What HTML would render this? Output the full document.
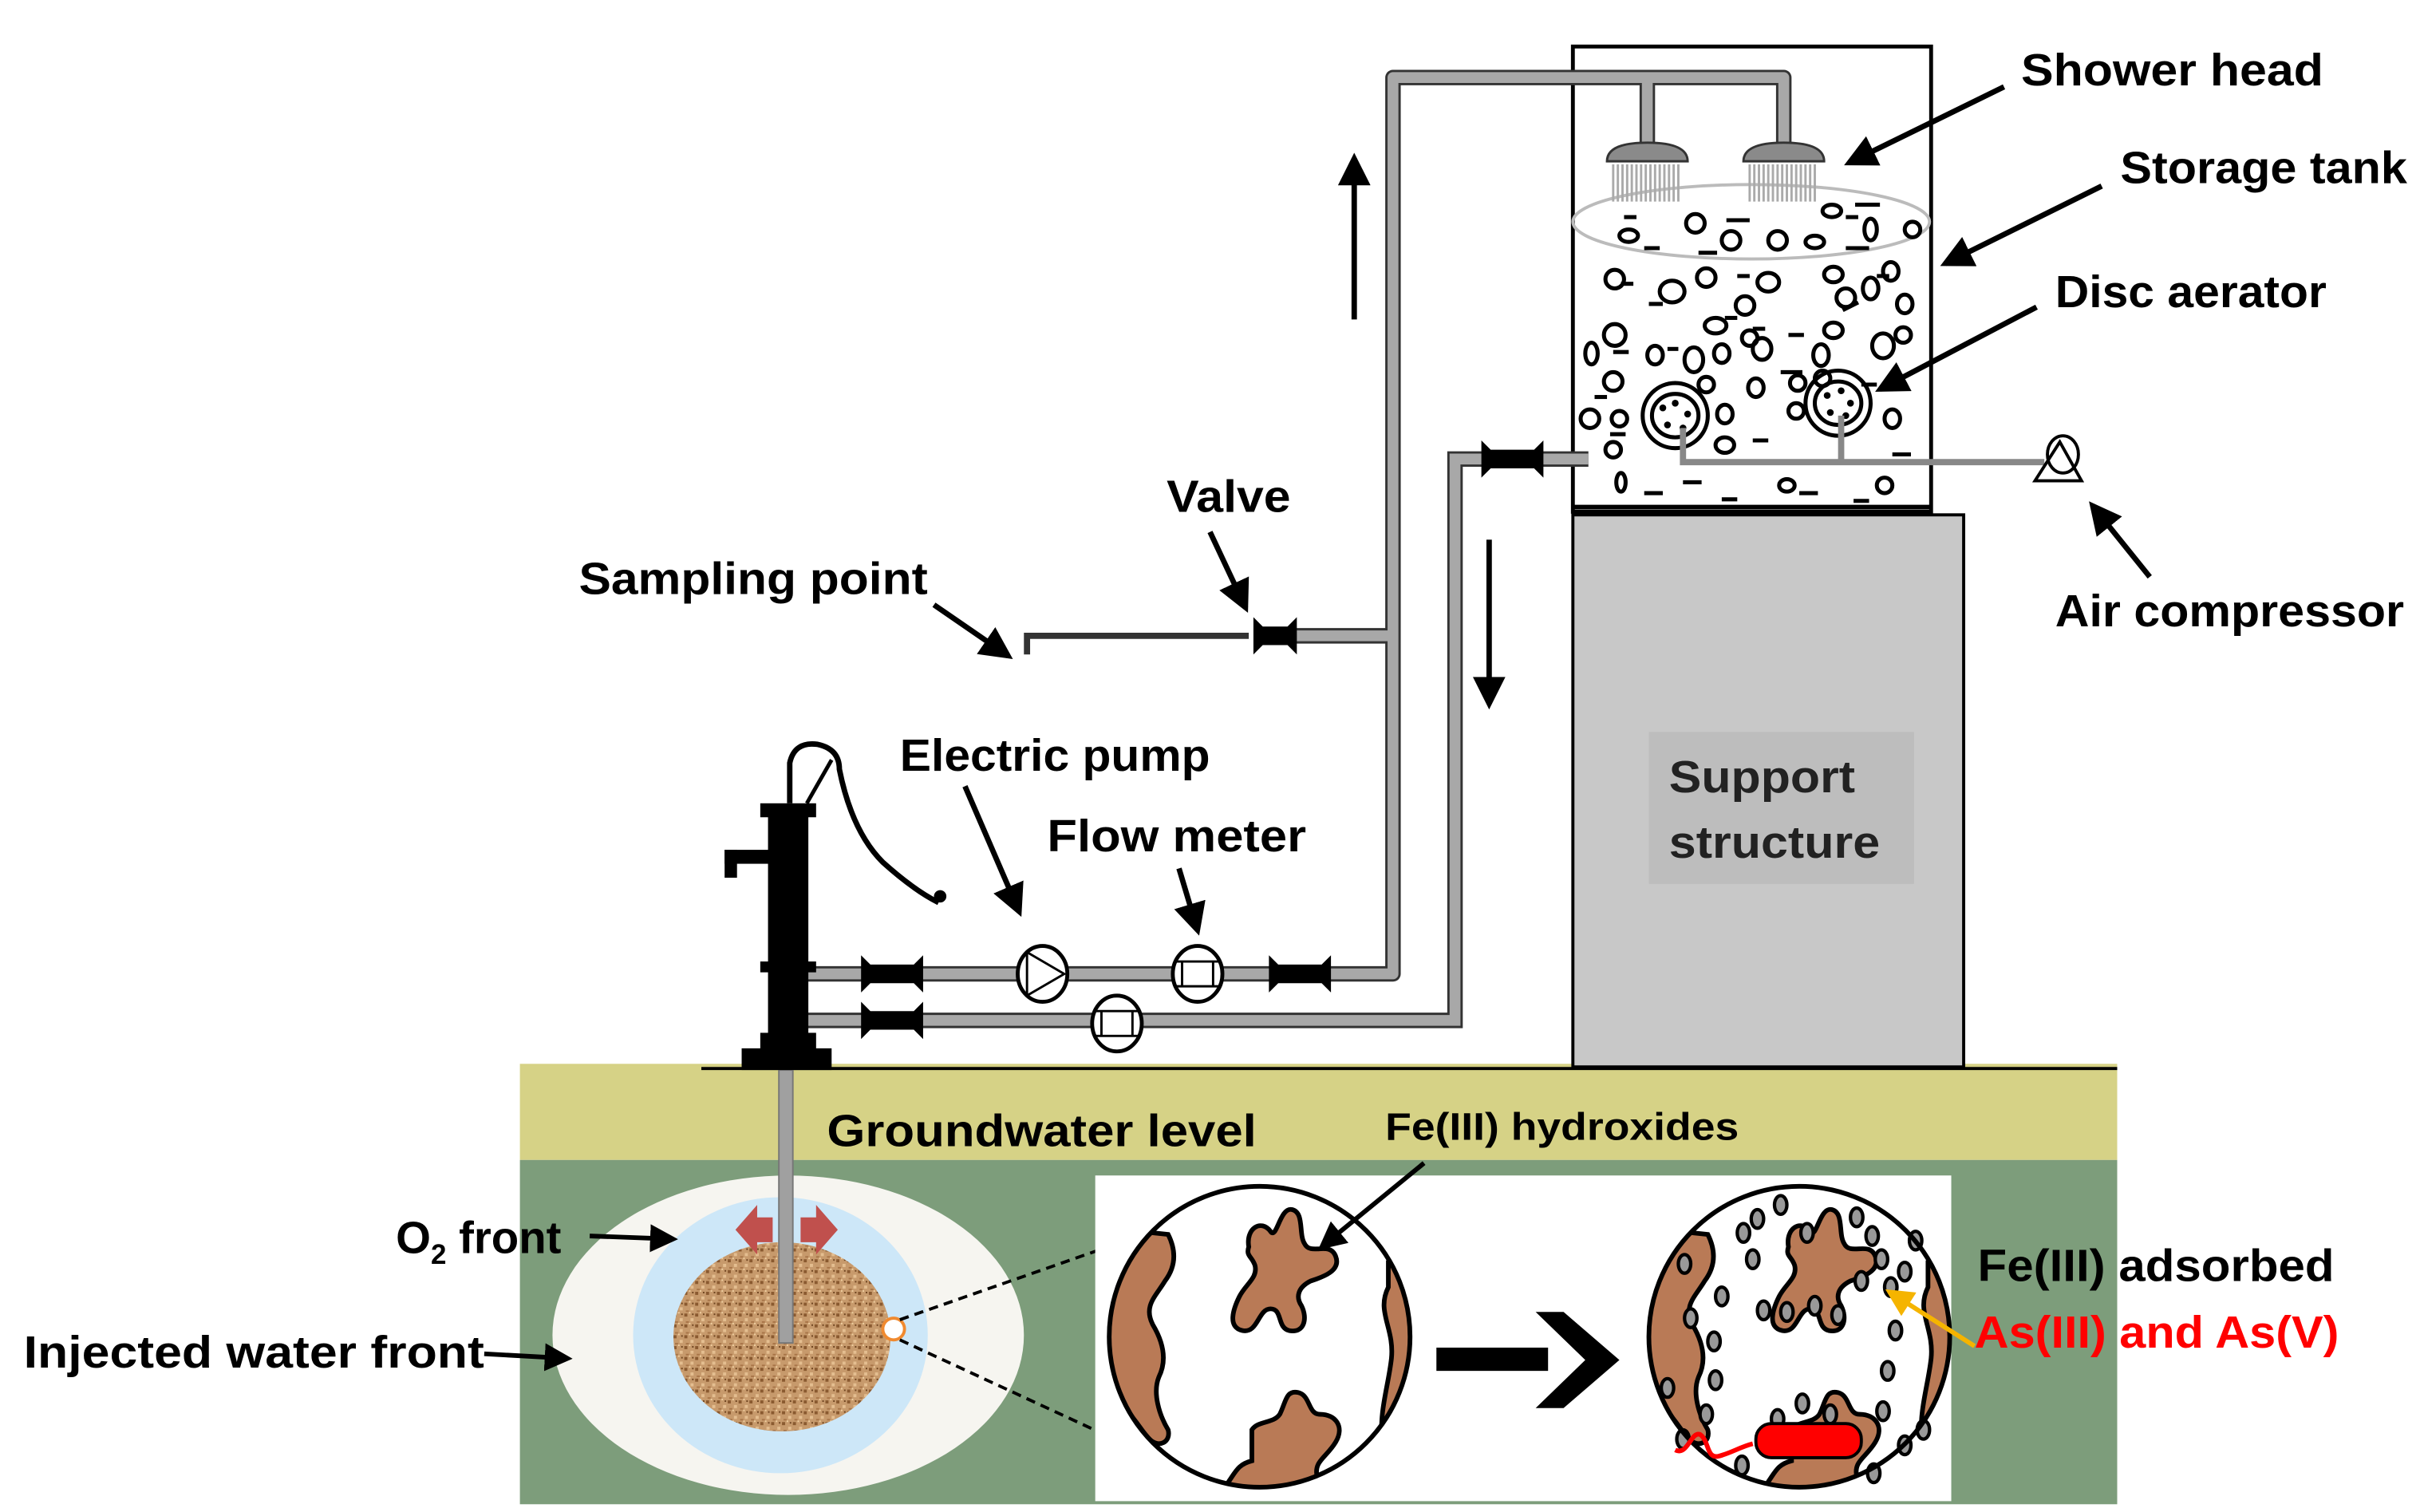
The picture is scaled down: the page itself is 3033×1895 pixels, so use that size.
<!DOCTYPE html>
<html><head><meta charset="utf-8"><style>html,body{margin:0;padding:0;background:#fff}svg{display:block}text{font-family:"Liberation Sans",sans-serif;font-weight:bold}</style></head><body>
<svg width="3033" height="1895" viewBox="0 0 1560 975" xmlns="http://www.w3.org/2000/svg">
<defs>
<marker id="ah" markerWidth="6" markerHeight="6" refX="5" refY="3" orient="auto" markerUnits="strokeWidth"><path d="M0,0 L6,3 L0,6 z" fill="#000"/></marker>
<marker id="ahy" markerWidth="6" markerHeight="6" refX="5" refY="3" orient="auto" markerUnits="strokeWidth"><path d="M0,0 L6,3 L0,6 z" fill="#f5b400"/></marker>
<pattern id="sand" width="7" height="7" patternUnits="userSpaceOnUse"><rect width="7" height="7" fill="#c79a6c"/><rect x="0" y="0" width="2" height="2" fill="#8a5a30"/><rect x="4" y="3" width="2" height="2" fill="#e4be90"/><rect x="5" y="0" width="1" height="1" fill="#6e4420"/><rect x="1" y="5" width="2" height="1" fill="#a87548"/><rect x="3" y="6" width="1" height="1" fill="#f0cfa0"/></pattern>
<clipPath id="c1"><circle cx="812" cy="862" r="96"/></clipPath>
<clipPath id="c2"><circle cx="1160" cy="862" r="96"/></clipPath>
<g id="blobs" stroke="#000" stroke-width="3" fill="#b97a56">
<path d="M-30,-58 c-2,-12 8,-18 14,-10 c4,6 6,-16 14,-14 c8,2 4,16 8,22 c4,8 16,-2 20,8 c4,10 -10,14 -16,16 c-8,4 -10,10 -6,16 c4,8 2,18 -8,16 c-8,-2 -4,-14 -12,-14 c-8,0 -8,16 -18,14 c-10,-2 -6,-14 -2,-22 c4,-8 12,-12 10,-20 c-2,-6 -6,-6 -4,-12z"/>
<path d="M-120,-70 L-82,-66 c6,12 4,22 -2,30 c-6,10 -14,16 -8,28 c6,10 10,22 4,34 c-4,10 0,24 6,34 c2,8 -6,12 -12,6 c-8,-8 -10,-18 -30,-30 z"/>
<path d="M60,-48 c10,-2 18,-6 24,-10 L120,-40 L120,120 L80,90 c-2,-10 -4,-20 -8,-20 c-8,0 -14,10 -16,-2 c-2,-20 4,-36 6,-54 c2,-20 -10,-30 -2,-46z"/>
<path d="M-28,60 c4,-6 14,-4 18,-10 c4,-8 4,-16 12,-14 c8,2 6,14 14,14 c10,0 16,8 10,18 c-6,10 -14,12 -12,22 L-40,120 c-4,-12 -8,-20 -2,-28 c4,-6 6,-10 14,-12z"/>
</g>
</defs>
<!-- ground -->
<rect x="335" y="686" width="1030" height="62" fill="#d6d286"/>
<rect x="335" y="748" width="1030" height="222" fill="#7d9d7b"/>
<line x1="452" y1="689" x2="1365" y2="689" stroke="#000" stroke-width="2"/>
<ellipse cx="508" cy="861" rx="152" ry="103" fill="#f6f5f0"/>
<ellipse cx="503" cy="861" rx="95" ry="89" fill="#cde7f8"/>
<ellipse cx="504" cy="862" rx="70" ry="61" fill="url(#sand)"/>
<rect x="502" y="690" width="9" height="176" fill="#a0a0a0" stroke="#777" stroke-width="1"/>
<path d="M498,785 h-10 v-8 l-14,16 l14,16 v-8 h10z" fill="#c0504d"/>
<path d="M516,785 h10 v-8 l14,16 l-14,16 v-8 h-10z" fill="#c0504d"/>
<ellipse cx="576" cy="857" rx="7" ry="7" fill="#fff" stroke="#f08a30" stroke-width="2"/>
<line x1="580" y1="851" x2="740" y2="795" stroke="#000" stroke-width="2" stroke-dasharray="6,4"/>
<line x1="580" y1="864" x2="740" y2="938" stroke="#000" stroke-width="2" stroke-dasharray="6,4"/>
<!-- inset -->
<rect x="706" y="758" width="552" height="210" fill="#fff"/>
<circle cx="812" cy="862" r="97" fill="#fff"/>
<g clip-path="url(#c1)"><use href="#blobs" transform="translate(835,862)"/></g>
<circle cx="812" cy="862" r="97" fill="none" stroke="#000" stroke-width="3"/>
<circle cx="1160" cy="862" r="97" fill="#fff"/>
<g clip-path="url(#c2)"><use href="#blobs" transform="translate(1183,862)"/></g>
<g fill="#999" stroke="#000" stroke-width="2.2">
<ellipse cx="1133" cy="786" rx="4" ry="6"/><ellipse cx="1148" cy="777" rx="4" ry="6"/><ellipse cx="1197" cy="785" rx="4" ry="6"/><ellipse cx="1207" cy="797" rx="4" ry="6"/><ellipse cx="1213" cy="812" rx="4" ry="6"/><ellipse cx="1200" cy="826" rx="4" ry="6"/><ellipse cx="1219" cy="830" rx="4" ry="6"/><ellipse cx="1228" cy="820" rx="4" ry="6"/><ellipse cx="1185" cy="848" rx="4" ry="6"/><ellipse cx="1170" cy="842" rx="4" ry="6"/><ellipse cx="1152" cy="846" rx="4" ry="6"/><ellipse cx="1137" cy="845" rx="4" ry="6"/><ellipse cx="1130" cy="812" rx="4" ry="6"/><ellipse cx="1124" cy="795" rx="4" ry="6"/><ellipse cx="1110" cy="836" rx="4" ry="6"/><ellipse cx="1105" cy="865" rx="4" ry="6"/><ellipse cx="1106" cy="890" rx="4" ry="6"/><ellipse cx="1100" cy="912" rx="4" ry="6"/><ellipse cx="1085" cy="928" rx="4" ry="6"/><ellipse cx="1222" cy="858" rx="4" ry="6"/><ellipse cx="1217" cy="884" rx="4" ry="6"/><ellipse cx="1214" cy="910" rx="4" ry="6"/><ellipse cx="1228" cy="932" rx="4" ry="6"/><ellipse cx="1240" cy="922" rx="4" ry="6"/><ellipse cx="1146" cy="915" rx="4" ry="6"/><ellipse cx="1162" cy="905" rx="4" ry="6"/><ellipse cx="1180" cy="912" rx="4" ry="6"/><ellipse cx="1123" cy="945" rx="4" ry="6"/><ellipse cx="1086" cy="815" rx="4" ry="6"/><ellipse cx="1235" cy="800" rx="4" ry="6"/><ellipse cx="1075" cy="895" rx="4" ry="6"/><ellipse cx="1090" cy="850" rx="4" ry="6"/><ellipse cx="1208" cy="950" rx="4" ry="6"/><ellipse cx="1165" cy="795" rx="4" ry="6"/>
</g>
<circle cx="1160" cy="862" r="97" fill="none" stroke="#000" stroke-width="3"/>
<path d="M1080,935 c8,4 10,-12 16,-10 c6,4 4,16 12,14 c8,-2 14,-6 22,-8" fill="none" stroke="#f00" stroke-width="3"/>
<rect x="1132" y="918" width="68" height="22" rx="10" fill="#f00" stroke="#000" stroke-width="2"/>
<rect x="926" y="869" width="72" height="15" fill="#000"/>
<path d="M990,846 L1008,846 L1044,877 L1008,908 L990,908 L1022,877 Z" fill="#000"/>
<line x1="1273" y1="868" x2="1218" y2="833" stroke="#f5b400" stroke-width="3" marker-end="url(#ahy)"/>
<!-- support & tank -->
<rect x="1014" y="332" width="252" height="356" fill="#c8c8c8" stroke="#000" stroke-width="2"/>
<rect x="1063" y="472" width="171" height="98" fill="#bdbdbd"/>
<rect x="1014" y="30" width="231" height="300" fill="#fff" stroke="#000" stroke-width="2.5"/>
<line x1="1014" y1="327" x2="1246" y2="327" stroke="#000" stroke-width="3"/>
<ellipse cx="1129" cy="143" rx="115" ry="24" fill="none" stroke="#bbb" stroke-width="2"/>
<g fill="none" stroke="#000" stroke-width="2.6">
<ellipse cx="1050" cy="152" rx="6" ry="4"/><ellipse cx="1093" cy="144" rx="6" ry="6"/><ellipse cx="1116" cy="155" rx="6" ry="6"/><ellipse cx="1146" cy="155" rx="6" ry="6"/><ellipse cx="1170" cy="156" rx="6" ry="4"/><ellipse cx="1181" cy="136" rx="6" ry="4"/><ellipse cx="1206" cy="148" rx="4" ry="7"/><ellipse cx="1233" cy="148" rx="5" ry="5"/>
<ellipse cx="1041" cy="180" rx="6" ry="6"/><ellipse cx="1100" cy="179" rx="6" ry="6"/><ellipse cx="1140" cy="182" rx="7" ry="6"/><ellipse cx="1182" cy="177" rx="6" ry="5"/><ellipse cx="1219" cy="175" rx="5" ry="6"/><ellipse cx="1078" cy="188" rx="8" ry="7"/><ellipse cx="1125" cy="197" rx="6" ry="6"/><ellipse cx="1190" cy="192" rx="6" ry="6"/><ellipse cx="1206" cy="186" rx="5" ry="7"/><ellipse cx="1228" cy="196" rx="5" ry="6"/>
<ellipse cx="1041" cy="216" rx="7" ry="7"/><ellipse cx="1106" cy="210" rx="7" ry="5"/><ellipse cx="1128" cy="218" rx="5" ry="5"/><ellipse cx="1182" cy="213" rx="6" ry="5"/><ellipse cx="1227" cy="216" rx="5" ry="5"/><ellipse cx="1136" cy="225" rx="6" ry="7"/><ellipse cx="1174" cy="229" rx="5" ry="7"/><ellipse cx="1214" cy="223" rx="7" ry="8"/><ellipse cx="1092" cy="232" rx="6" ry="8"/>
<ellipse cx="1026" cy="228" rx="4" ry="7"/><ellipse cx="1067" cy="229" rx="5" ry="6"/><ellipse cx="1110" cy="228" rx="5" ry="6"/><ellipse cx="1040" cy="246" rx="6" ry="6"/><ellipse cx="1100" cy="248" rx="5" ry="5"/><ellipse cx="1132" cy="250" rx="5" ry="6"/><ellipse cx="1159" cy="247" rx="5" ry="5"/><ellipse cx="1175" cy="244" rx="5" ry="5"/>
<ellipse cx="1025" cy="270" rx="6" ry="6"/><ellipse cx="1044" cy="270" rx="5" ry="5"/><ellipse cx="1112" cy="267" rx="5" ry="6"/><ellipse cx="1158" cy="265" rx="5" ry="5"/><ellipse cx="1220" cy="270" rx="5" ry="6"/><ellipse cx="1040" cy="290" rx="5" ry="5"/><ellipse cx="1112" cy="287" rx="6" ry="5"/><ellipse cx="1045" cy="311" rx="3" ry="6"/><ellipse cx="1152" cy="313" rx="5" ry="4"/><ellipse cx="1215" cy="313" rx="5" ry="5"/>
<ellipse cx="1080" cy="268" rx="21" ry="21"/><ellipse cx="1080" cy="268" rx="15" ry="14"/><ellipse cx="1185" cy="260" rx="21" ry="21"/><ellipse cx="1185" cy="260" rx="15" ry="14"/>
</g>
<g stroke="#000" stroke-width="2.6">
<line x1="1047" y1="140" x2="1055" y2="140"/><line x1="1113" y1="142" x2="1128" y2="142"/><line x1="1196" y1="132" x2="1212" y2="132"/><line x1="1190" y1="140" x2="1198" y2="140"/><line x1="1190" y1="160" x2="1205" y2="160"/><line x1="1095" y1="163" x2="1107" y2="163"/><line x1="1060" y1="160" x2="1070" y2="160"/><line x1="1045" y1="183" x2="1053" y2="183"/><line x1="1063" y1="196" x2="1072" y2="196"/><line x1="1120" y1="178" x2="1128" y2="178"/><line x1="1210" y1="178" x2="1218" y2="178"/><line x1="1112" y1="205" x2="1120" y2="205"/><line x1="1040" y1="227" x2="1050" y2="227"/><line x1="1075" y1="225" x2="1082" y2="225"/><line x1="1130" y1="212" x2="1138" y2="212"/><line x1="1153" y1="216" x2="1163" y2="216"/><line x1="1188" y1="200" x2="1198" y2="195"/><line x1="1148" y1="240" x2="1162" y2="240"/><line x1="1200" y1="248" x2="1210" y2="248"/><line x1="1038" y1="280" x2="1048" y2="280"/><line x1="1130" y1="284" x2="1140" y2="284"/><line x1="1220" y1="293" x2="1232" y2="293"/><line x1="1060" y1="318" x2="1072" y2="318"/><line x1="1110" y1="322" x2="1120" y2="322"/><line x1="1160" y1="318" x2="1172" y2="318"/><line x1="1195" y1="323" x2="1205" y2="323"/><line x1="1085" y1="311" x2="1097" y2="311"/><line x1="1220" y1="250" x2="1230" y2="250"/><line x1="1028" y1="256" x2="1036" y2="256"/></g>
<g fill="#000"><circle cx="1072" cy="263" r="2.2"/><circle cx="1080" cy="260" r="2.2"/><circle cx="1088" cy="267" r="2.2"/><circle cx="1075" cy="274" r="2.2"/><circle cx="1085" cy="276" r="2.2"/><circle cx="1178" cy="255" r="2.2"/><circle cx="1187" cy="252" r="2.2"/><circle cx="1193" cy="260" r="2.2"/><circle cx="1180" cy="266" r="2.2"/><circle cx="1190" cy="268" r="2.2"/></g>
<!-- aerator pipe -->
<path d="M1085,276 V298 H1318 M1187,268 V298" fill="none" stroke="#888" stroke-width="4"/>
<path d="M1312,310 L1328,285 L1342,310 Z" fill="#fff" stroke="#000" stroke-width="2"/>
<ellipse cx="1330" cy="293" rx="10" ry="12" fill="none" stroke="#000" stroke-width="2"/>
<!-- pipes -->
<path d="M520,628 H898 V50 H1150 V98 M1062,50 V98 M898,410 H828" fill="none" stroke="#333" stroke-width="10" stroke-linejoin="round"/>
<path d="M520,628 H898 V50 H1150 V98 M1062,50 V98 M898,410 H828" fill="none" stroke="#a8a8a8" stroke-width="7" stroke-linejoin="round"/>
<path d="M520,658 H938 V296 H1024" fill="none" stroke="#333" stroke-width="10"/>
<path d="M520,658 H938 V296 H1024" fill="none" stroke="#a8a8a8" stroke-width="7"/>
<path d="M805,410 H662 V422" fill="none" stroke="#333" stroke-width="4"/>
<path d="M1036,104 q0,-12 26,-12 q26,0 26,12 z M1124,104 q0,-12 26,-12 q26,0 26,12 z" fill="#8a8a8a" stroke="#333" stroke-width="1.5"/>
<g stroke="#aaa" stroke-width="1.5"><path d="M1040,106v24M1043,106v24M1046,106v24M1049,106v24M1052,106v24M1055,106v24M1058,106v24M1061,106v24M1064,106v24M1067,106v24M1070,106v24M1073,106v24M1076,106v24M1079,106v24M1082,106v24M1128,106v24M1131,106v24M1134,106v24M1137,106v24M1140,106v24M1143,106v24M1146,106v24M1149,106v24M1152,106v24M1155,106v24M1158,106v24M1161,106v24M1164,106v24M1167,106v24M1170,106v24"/></g>
<!-- valves -->
<g fill="#000">
<path d="M808,398 l6,6 h16 l6,-6 v24 l-6,-6 h-16 l-6,6z"/>
<path d="M555,616 l6,6 h28 l6,-6 v24 l-6,-6 h-28 l-6,6z"/>
<path d="M555,646 l6,6 h28 l6,-6 v24 l-6,-6 h-28 l-6,6z"/>
<path d="M818,616 l6,6 h28 l6,-6 v24 l-6,-6 h-28 l-6,6z"/>
<path d="M955,284 l6,6 h28 l6,-6 v24 l-6,-6 h-28 l-6,6z"/>
</g>
<g fill="#fff" stroke="#000" stroke-width="2.5">
<ellipse cx="672" cy="628" rx="16" ry="18"/><ellipse cx="772" cy="628" rx="16" ry="18"/><ellipse cx="720" cy="660" rx="16" ry="18"/></g>
<path d="M662,614 V642 M662,614 L686,628 L662,642" fill="none" stroke="#000" stroke-width="1.5"/>
<path d="M758,620 H786 M758,636 H786 M762,620 V636 M782,620 V636" fill="none" stroke="#000" stroke-width="1.5"/>
<path d="M706,652 H734 M706,668 H734 M710,652 V668 M730,652 V668" fill="none" stroke="#000" stroke-width="1.5"/>
<!-- hand pump -->
<g fill="#000">
<rect x="495" y="520" width="26" height="160"/>
<rect x="478" y="676" width="58" height="14"/>
<rect x="490" y="666" width="36" height="12"/>
<rect x="467" y="548" width="30" height="9"/><rect x="467" y="548" width="8" height="18"/>
<rect x="490" y="518" width="36" height="9"/>
<rect x="490" y="620" width="36" height="7"/>
</g>
<path d="M509,518 V492 q3,-14 18,-12 q14,3 14,16 q8,40 28,60 q20,18 36,26" fill="none" stroke="#000" stroke-width="3.5"/>
<path d="M520,518 L536,490" fill="none" stroke="#000" stroke-width="2.5"/>
<circle cx="606" cy="578" r="4" fill="#000"/>
<!-- flow arrows -->
<line x1="873" y1="206" x2="873" y2="102" stroke="#000" stroke-width="3.5" marker-end="url(#ah)"/>
<line x1="960" y1="348" x2="960" y2="454" stroke="#000" stroke-width="3.5" marker-end="url(#ah)"/>
<!-- label arrows -->
<g stroke="#000" stroke-width="3.5" marker-end="url(#ah)">
<line x1="1292" y1="56" x2="1192" y2="105"/>
<line x1="1355" y1="120" x2="1254" y2="170"/>
<line x1="1313" y1="198" x2="1212" y2="251"/>
<line x1="1386" y1="372" x2="1349" y2="326"/>
<line x1="780" y1="343" x2="803" y2="392"/>
<line x1="602" y1="390" x2="650" y2="423"/>
<line x1="622" y1="507" x2="657" y2="588"/>
<line x1="760" y1="560" x2="772" y2="600"/>
</g>
<g stroke="#000" stroke-width="3" marker-end="url(#ah)">
<line x1="918" y1="750" x2="852" y2="804"/>
<line x1="380" y1="797" x2="434" y2="799"/>
<line x1="312" y1="873" x2="366" y2="876"/>
</g>
<!-- labels -->
<g font-size="29" fill="#000">
<text x="1303" y="55" textLength="195" lengthAdjust="spacingAndGlyphs">Shower head</text>
<text x="1367" y="118" textLength="185" lengthAdjust="spacingAndGlyphs">Storage tank</text>
<text x="1325" y="198" textLength="175" lengthAdjust="spacingAndGlyphs">Disc aerator</text>
<text x="1325" y="404" textLength="225" lengthAdjust="spacingAndGlyphs">Air compressor</text>
<text x="752" y="330" textLength="80" lengthAdjust="spacingAndGlyphs">Valve</text>
<text x="373" y="383" textLength="225" lengthAdjust="spacingAndGlyphs">Sampling point</text>
<text x="580" y="497" textLength="200" lengthAdjust="spacingAndGlyphs">Electric pump</text>
<text x="675" y="549" textLength="167" lengthAdjust="spacingAndGlyphs">Flow meter</text>
<text x="1076" y="511" textLength="120" lengthAdjust="spacingAndGlyphs" fill="#222">Support</text>
<text x="1076" y="553" textLength="136" lengthAdjust="spacingAndGlyphs" fill="#222">structure</text>
<text x="533" y="739" textLength="277" lengthAdjust="spacingAndGlyphs">Groundwater level</text>
<text x="1275" y="826" textLength="230" lengthAdjust="spacingAndGlyphs">Fe(III) adsorbed</text>
<text x="1273" y="869" textLength="235" lengthAdjust="spacingAndGlyphs" fill="#f00">As(III) and As(V)</text>
<text x="255" y="808">O<tspan font-size="18" dy="7">2</tspan><tspan dy="-7"> front</tspan></text>
<text x="15" y="882" textLength="297" lengthAdjust="spacingAndGlyphs">Injected water front</text>
</g>
<text x="893" y="735" font-size="25" textLength="228" lengthAdjust="spacingAndGlyphs">Fe(III) hydroxides</text>
</svg>
</body></html>
